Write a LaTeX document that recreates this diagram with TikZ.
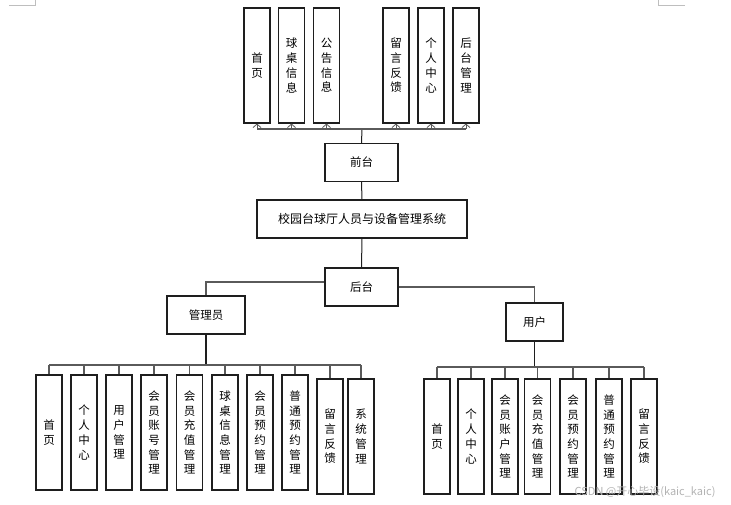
\documentclass[tikz,border=0pt]{standalone}
\usepackage{fontspec}
\setmainfont{Noto Sans CJK SC}
\usepackage{xcolor}
\usepackage{tikz}
\usetikzlibrary{positioning, calc, arrows.meta}
\definecolor{chLine}{RGB}{30, 30, 30}
\definecolor{chBus}{RGB}{90, 90, 90}
\definecolor{chMark}{RGB}{190, 190, 190}
\tikzset{
    base/.style={
        align=center,
        text=black
    },
    block/.style={
        base,
        rectangle,
        draw=chLine,
        line width=1.1pt,
        fill=white,
        inner sep=0pt,
        minimum height=38pt,
        font=\fontsize{11.5}{14}\selectfont
    },
    leaf/.style={
        base,
        rectangle,
        draw=chLine,
        line width=1.1pt,
        fill=white,
        inner sep=0pt,
        minimum width=26pt,
        minimum height=115pt,
        font=\fontsize{11.5}{14.7}\selectfont
    },
    link/.style={
        line width=1pt,
        color=chLine
    },
    bus/.style={
        line width=1.2pt,
        color=chBus
    },
    uparrow/.style={
        -{Straight Barb[length=3.5pt, width=8pt]},
        line width=0.8pt,
        color=chBus
    }
}

\begin{document}
\begin{tikzpicture}[x=1pt, y=-1pt]
  \useasboundingbox (0,0) rectangle (731,505);

  % Page corner marks
  \draw[chMark, line width=0.8pt] (9,5) -- (35,5) -- (35,0);
  \draw[chMark, line width=0.8pt] (685,5) -- (658,5) -- (658,0);

  % Front end modules
  \foreach \n/\x/\txt in {1/257/{首\\页}, 2/291.5/{球\\桌\\信\\息}, 3/326.5/{公\\告\\信\\息},
                          4/396/{留\\言\\反\\馈}, 5/431/{个\\人\\中\\心}, 6/466/{后\\台\\管\\理}}
    \node[leaf] (t\n) at (\x,65.5) {\txt};

  % Main chain
  \node[block, minimum width=73pt] (front) at (361.5,162.5) {前台};
  \node[block, minimum width=210pt, font=\fontsize{12}{14}\selectfont] (sys) at (362,219) {校园台球厅人员与设备管理系统};
  \node[block, minimum width=73pt] (back) at (361.5,287) {后台};
  \node[block, minimum width=78pt] (admin) at (206,315) {管理员};
  \node[block, minimum width=57pt] (user) at (534.5,322) {用户};

  \coordinate (tbus) at (362,129);
  \draw[link] (front.north) -- (tbus);
  \draw[bus] (t1.south |- tbus) -- (t6.south |- tbus);
  \foreach \n in {1,...,6}
    \draw[uparrow] (t\n.south |- tbus) -- (t\n.south);

  \draw[link] (front.south) -- (sys.north);
  \draw[link] (sys.south) -- (back.north);
  \draw[bus] ([yshift=5pt]back.west) -| (admin.north);
  \draw[bus] (back.east) -| (user.north);

  % Admin modules
  \foreach \n/\x/\yc/\txt in {1/49/432.5/{首\\页}, 2/84/432.5/{个\\人\\中\\心}, 3/119/432.5/{用\\户\\管\\理},
                              4/154/432.5/{会\\员\\账\\号\\管\\理}, 5/189.5/432.5/{会\\员\\充\\值\\管\\理},
                              6/225/432.5/{球\\桌\\信\\息\\管\\理}, 7/260/432.5/{会\\员\\预\\约\\管\\理},
                              8/295/432.5/{普\\通\\预\\约\\管\\理}, 9/330/436.5/{留\\言\\反\\馈},
                              10/361/436.5/{系\\统\\管\\理}}
    \node[leaf] (a\n) at (\x,\yc) {\txt};

  \coordinate (abus) at (206,365);
  \draw[link, line width=1.8pt] (admin.south) -- (abus);
  \draw[bus] (a1.north |- abus) -- (a10.north |- abus);
  \foreach \n in {1,...,10}
    \draw[bus] (a\n.north |- abus) -- (a\n.north);

  % User modules
  \foreach \n/\x/\txt in {1/437/{首\\页}, 2/471/{个\\人\\中\\心}, 3/505/{会\\员\\账\\户\\管\\理},
                          4/537.5/{会\\员\\充\\值\\管\\理}, 5/573/{会\\员\\预\\约\\管\\理},
                          6/609/{普\\通\\预\\约\\管\\理}, 7/644/{留\\言\\反\\馈}}
    \node[leaf] (u\n) at (\x,436.5) {\txt};

  \coordinate (ubus) at (534.5,367);
  \draw[link, line width=1.8pt] (user.south) -- (ubus);
  \draw[bus] (u1.north |- ubus) -- (u7.north |- ubus);
  \foreach \n in {1,...,7}
    \draw[bus] (u\n.north |- ubus) -- (u\n.north);

  % Watermark
  \node[text=black!30, font=\fontsize{11}{13}\selectfont, anchor=east] (mark) at (719,492) {CSDN @开心毕设(kaic\_kaic)};
\end{tikzpicture}
\end{document}
